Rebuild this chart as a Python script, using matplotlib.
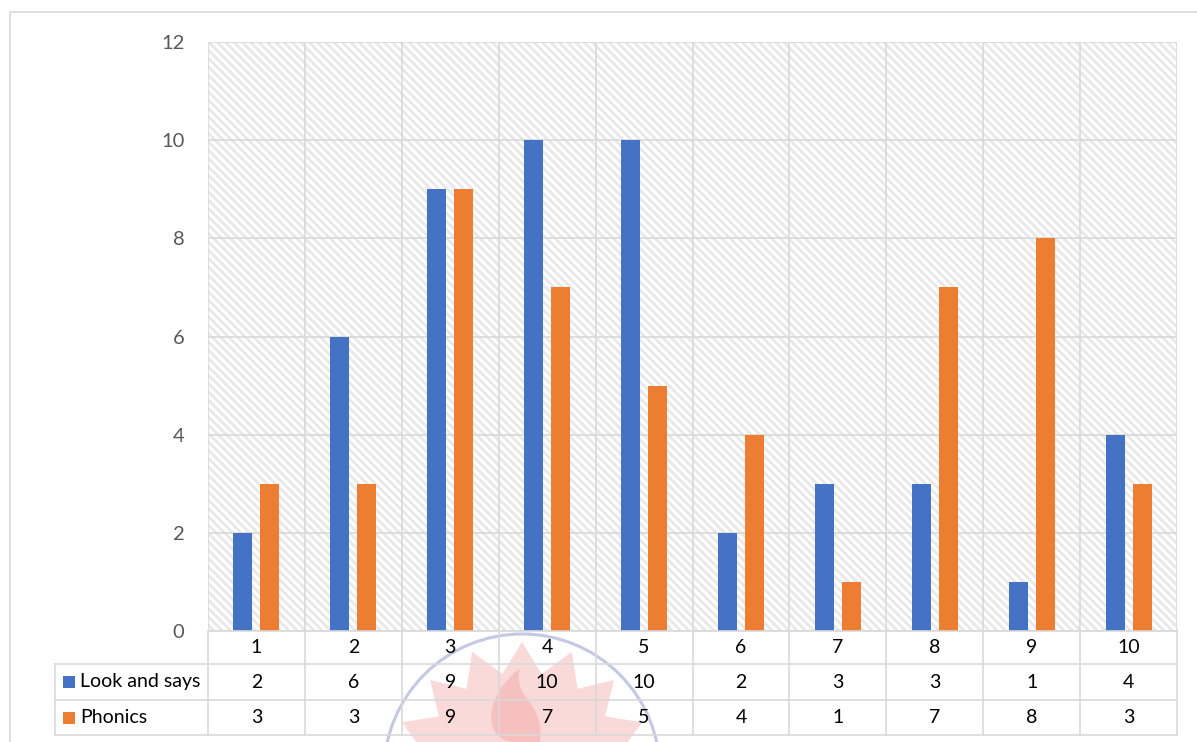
import numpy as np
import matplotlib
matplotlib.use("Agg")
import matplotlib.pyplot as plt
from matplotlib.patches import Rectangle, Polygon, Circle, PathPatch
from matplotlib.lines import Line2D
from matplotlib.path import Path
import matplotlib.transforms as mtransforms

# ---- data ----
categories = ["1", "2", "3", "4", "5", "6", "7", "8", "9", "10"]
series_names = ["Look and says", "Phonics"]
look_and_says = [2, 6, 9, 10, 10, 2, 3, 3, 1, 4]
phonics = [3, 3, 9, 7, 5, 4, 1, 7, 8, 3]
series_colors = ["#4472C4", "#ED7D31"]
y_ticks = [0, 2, 4, 6, 8, 10, 12]

plt.rcParams["font.family"] = ["Lato", "DejaVu Sans"]
plt.rcParams["hatch.linewidth"] = 2.0

W, H = 1197, 742
fig = plt.figure(figsize=(W / 100, H / 100), dpi=100)
fig.patch.set_facecolor("white")

# plot-area geometry (pixels)
L, R, T, B = 208, 1177, 42, 631
row_edges = [B, 664, 700, 735]
legend_left = 55
grid_c = "#d9d9d9"
fs = 14

ax = fig.add_axes([L / W, 1 - B / H, (R - L) / W, (B - T) / H])
n = len(categories)
ax.set_xlim(0, n)
ax.set_ylim(0, 12)
ax.set_facecolor("none")
for s in ax.spines.values():
    s.set_visible(False)

# hatched plot background
ax.add_patch(Rectangle((0, 0), 1, 1, transform=ax.transAxes, facecolor="white",
                       edgecolor="#e8e8e8", hatch="\\\\\\\\", lw=0, zorder=0))

ax.set_axisbelow(True)
ax.set_yticks(y_ticks)
ax.set_xticks(np.arange(0, n + 1))
ax.set_xticklabels([])
ax.grid(True, color=grid_c, lw=1.2)
ax.tick_params(axis="both", length=0)
ax.tick_params(axis="y", pad=17, labelsize=14.5, labelcolor="#595959")

x = np.arange(n) + 0.5
bw = 0.196
off = 0.139
ax.bar(x - off, look_and_says, width=bw, color=series_colors[0], zorder=2)
ax.bar(x + off, phonics, width=bw, color=series_colors[1], zorder=2)


def fy(py):
    return (B - py) / (B - T)


def dx(px):
    return (px - L) / ((R - L) / n)


blend = mtransforms.blended_transform_factory(ax.transData, ax.transAxes)

# data table below the axis
for k in range(n + 1):
    ax.add_line(Line2D([k, k], [0, fy(row_edges[-1])], transform=blend,
                       color=grid_c, lw=1.2, clip_on=False))
ax.add_line(Line2D([dx(legend_left), dx(legend_left)],
                   [fy(row_edges[1]), fy(row_edges[-1])], transform=blend,
                   color=grid_c, lw=1.2, clip_on=False))
ax.add_line(Line2D([0, n], [0, 0], transform=blend, color=grid_c, lw=1.2, clip_on=False))
for py in row_edges[1:]:
    ax.add_line(Line2D([dx(legend_left), n], [fy(py), fy(py)], transform=blend,
                       color=grid_c, lw=1.2, clip_on=False))

row_mid = [(row_edges[i] + row_edges[i + 1]) / 2 for i in range(3)]
for i, c in enumerate(categories):
    ax.text(x[i], fy(row_mid[0]), c, transform=blend, ha="center", va="center",
            fontsize=fs, color="black")
for r, vals in enumerate([look_and_says, phonics]):
    for i, v in enumerate(vals):
        ax.text(x[i], fy(row_mid[r + 1]), str(v), transform=blend, ha="center",
                va="center", fontsize=fs, color="black")
    ym = row_mid[r + 1]
    ax.add_patch(Rectangle((dx(63), fy(ym + 6)), dx(75) - dx(63), fy(ym - 6) - fy(ym + 6),
                           transform=blend, facecolor=series_colors[r], lw=0,
                           clip_on=False))
    ax.text(dx(80), fy(ym), series_names[r], transform=blend, ha="left", va="center",
            fontsize=fs, color="black")

# faint emblem in the lower middle
over = fig.add_axes([0, 0, 1, 1], zorder=-1)
over.set_xlim(0, W)
over.set_ylim(H, 0)
over.axis("off")
cx, cy = 522, 772
pts = []
nspk = 16
for j in range(2 * nspk):
    a = np.pi * j / nspk - np.pi / 2
    rr = 130 if j % 2 == 0 else 100
    pts.append((cx + rr * np.cos(a), cy + rr * np.sin(a)))
over.add_patch(Polygon(pts, closed=True, facecolor="#f7c0c0", alpha=0.6, lw=0))
over.add_patch(Circle((cx, cy), 138, fill=False, edgecolor="#c5c8e2", lw=2.2))
flame = Path([(515, 742), (485, 742), (480, 700), (520, 668), (512, 700),
              (545, 700), (540, 742), (515, 742)],
             [Path.MOVETO, Path.CURVE4, Path.CURVE4, Path.CURVE4, Path.CURVE4,
              Path.CURVE4, Path.CURVE4, Path.CLOSEPOLY])
over.add_patch(PathPatch(flame, facecolor="#f4a9a9", alpha=0.5, lw=0))

# outer frame
fig.add_artist(Line2D([10 / W, 10 / W, 1], [0, 1 - 12 / H, 1 - 12 / H],
                      transform=fig.transFigure, color=grid_c, lw=1.2))

fig.savefig("out.png", dpi=100, facecolor="white")
